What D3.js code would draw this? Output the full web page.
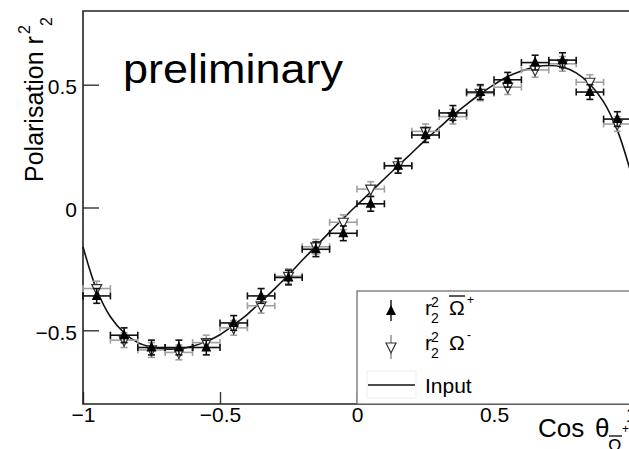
<!DOCTYPE html>
<html>
<head>
<meta charset="utf-8">
<script src="https://cdn.jsdelivr.net/npm/d3@7"></script>
<style>
  body { margin: 0; background: #fff; }
  text { font-family: "Liberation Sans", Arial, sans-serif; }
</style>
</head>
<body>
<div id="chart"></div>
<script>
// bin centres of cos(theta)
var binCenters = [-0.95, -0.85, -0.75, -0.65, -0.55, -0.45, -0.35, -0.25, -0.15, -0.05,
                  0.05, 0.15, 0.25, 0.35, 0.45, 0.55, 0.65, 0.75, 0.85, 0.95];
// r2^2 for anti-Omega+ (filled triangles)
var omegaBarPlus = [-0.36, -0.52, -0.57, -0.57, -0.57, -0.47, -0.36, -0.285, -0.17, -0.105,
                    0.015, 0.17, 0.295, 0.385, 0.47, 0.52, 0.59, 0.60, 0.47, 0.36];
// r2^2 for Omega- (open triangles)
var omegaMinus = [-0.33, -0.54, -0.58, -0.59, -0.55, -0.49, -0.40, -0.28, -0.16, -0.06,
                  0.075, 0.17, 0.31, 0.37, 0.465, 0.49, 0.56, 0.585, 0.51, 0.34];
var binHalfWidth = 0.05;
var yErr = 0.03;

// input curve
var inputX = [-1, -0.95, -0.9, -0.85, -0.8, -0.75, -0.7, -0.65, -0.6, -0.55, -0.5, -0.45, -0.4,
              -0.35, -0.3, -0.25, -0.2, -0.15, -0.1, -0.05, 0, 0.05, 0.1, 0.15, 0.2, 0.25, 0.3,
              0.35, 0.4, 0.45, 0.5, 0.55, 0.6, 0.65, 0.7, 0.75, 0.8, 0.85, 0.9, 0.95, 1];
var inputY = [-0.16, -0.335, -0.445, -0.51, -0.55, -0.568, -0.576, -0.575, -0.565, -0.545, -0.518,
              -0.478, -0.435, -0.383, -0.33, -0.275, -0.215, -0.158, -0.1, -0.045, 0.01, 0.063,
              0.117, 0.17, 0.222, 0.275, 0.325, 0.375, 0.42, 0.462, 0.5, 0.533, 0.556, 0.572,
              0.578, 0.572, 0.548, 0.502, 0.43, 0.315, 0.14];

var xTicks = [-1, -0.5, 0, 0.5, 1];
var yTicks = [-0.5, 0, 0.5];

// SVG area
var svgWidth = 629;
var svgHeight = 449;
var frame = { left: 83, top: 11, right: 631, bottom: 404 };

var svg = d3.select("#chart")
    .append("svg")
    .attr("width", svgWidth)
    .attr("height", svgHeight);

svg.append("rect").attr("width", svgWidth).attr("height", svgHeight).attr("fill", "#fff");

var x = d3.scaleLinear().domain([-1, 1]).range([frame.left, frame.right]);
var y = d3.scaleLinear().domain([-0.8, 0.8]).range([frame.bottom, frame.top]);

var fmt = function(d) { return d3.format("")(d).replace("-", "\u2212"); };

// axes with inward ticks
var bottomAxis = d3.axisBottom(x).tickValues(xTicks).tickSize(-12).tickPadding(3).tickFormat(fmt);
var leftAxis = d3.axisLeft(y).tickValues(yTicks).tickSize(-16).tickPadding(6).tickFormat(fmt);

var gx = svg.append("g")
    .attr("transform", `translate(0, ${frame.bottom})`)
    .call(bottomAxis);
var gy = svg.append("g")
    .attr("transform", `translate(${frame.left}, 0)`)
    .call(leftAxis);
[gx, gy].forEach(function(g) {
    g.select(".domain").remove();
    g.selectAll("line").attr("stroke", "#333").attr("stroke-width", 1.4);
    g.selectAll("text").attr("font-size", 21).attr("fill", "#000");
});
gy.selectAll("text").attr("dy", "0.42em");

// frame
svg.append("path")
    .attr("d", `M${frame.right},${frame.top} H${frame.left} V${frame.bottom} H${frame.right}`)
    .attr("fill", "none")
    .attr("stroke", "#222")
    .attr("stroke-width", 1.6);

// input curve
var line = d3.line()
    .x(function(d, i) { return x(inputX[i]); })
    .y(function(d) { return y(d); })
    .curve(d3.curveCatmullRom);
svg.append("path")
    .datum(inputY)
    .attr("d", line)
    .attr("fill", "none")
    .attr("stroke", "#111")
    .attr("stroke-width", 1.6);

// error bars + markers
function drawSeries(values, color, markerFn) {
    var g = svg.append("g");
    var pts = g.selectAll("g").data(values).enter().append("g");
    // horizontal bars
    pts.append("line")
        .attr("x1", function(d, i) { return x(binCenters[i] - binHalfWidth); })
        .attr("x2", function(d, i) { return x(binCenters[i] + binHalfWidth); })
        .attr("y1", function(d) { return y(d); })
        .attr("y2", function(d) { return y(d); });
    // vertical bars
    pts.append("line")
        .attr("x1", function(d, i) { return x(binCenters[i]); })
        .attr("x2", function(d, i) { return x(binCenters[i]); })
        .attr("y1", function(d) { return y(d - yErr); })
        .attr("y2", function(d) { return y(d + yErr); });
    // caps
    [-binHalfWidth, binHalfWidth].forEach(function(o) {
        pts.append("line")
            .attr("x1", function(d, i) { return x(binCenters[i] + o); })
            .attr("x2", function(d, i) { return x(binCenters[i] + o); })
            .attr("y1", function(d) { return y(d) - 3.5; })
            .attr("y2", function(d) { return y(d) + 3.5; });
    });
    [-yErr, yErr].forEach(function(o) {
        pts.append("line")
            .attr("x1", function(d, i) { return x(binCenters[i]) - 3.5; })
            .attr("x2", function(d, i) { return x(binCenters[i]) + 3.5; })
            .attr("y1", function(d) { return y(d + o); })
            .attr("y2", function(d) { return y(d + o); });
    });
    pts.selectAll("line").attr("stroke", color).attr("stroke-width", 1.6);
    pts.each(function(d, i) { markerFn(d3.select(this), x(binCenters[i]), y(d)); });
}

function triUp(g, cx, cy) {
    g.append("path")
        .attr("d", `M${cx},${cy - 6} L${cx + 5},${cy + 4} L${cx - 5},${cy + 4} Z`)
        .attr("fill", "#000");
}
function triDown(g, cx, cy) {
    g.append("path")
        .attr("d", `M${cx - 5},${cy - 4} L${cx + 5},${cy - 4} L${cx},${cy + 6} Z`)
        .attr("fill", "#fff")
        .attr("stroke", "#333")
        .attr("stroke-width", 1.2);
}

drawSeries(omegaMinus, "#a0a0a0", triDown);
drawSeries(omegaBarPlus, "#111", triUp);

// legend
var legend = svg.append("g");
legend.append("rect")
    .attr("x", 357).attr("y", 291)
    .attr("width", 300).attr("height", frame.bottom - 291)
    .attr("fill", "#fff")
    .attr("stroke", "#666")
    .attr("stroke-width", 1.2);

var lg1 = legend.append("g");
lg1.append("line").attr("x1", 391).attr("x2", 391).attr("y1", 300).attr("y2", 321)
    .attr("stroke", "#111").attr("stroke-width", 1.4);
triUp(lg1, 391, 311);

var lg2 = legend.append("g");
lg2.append("line").attr("x1", 391).attr("x2", 391).attr("y1", 335).attr("y2", 359)
    .attr("stroke", "#888").attr("stroke-width", 1.4);
triDown(lg2, 391, 347);

legend.append("rect").attr("x", 367).attr("y", 371).attr("width", 49).attr("height", 27)
    .attr("fill", "none").attr("stroke", "#eee");
legend.append("line").attr("x1", 368).attr("x2", 415).attr("y1", 385).attr("y2", 385)
    .attr("stroke", "#111").attr("stroke-width", 1.6);

function rLabel(g, x0, base, sign, bar) {
    g.append("text").attr("x", x0).attr("y", base).attr("font-size", 21).text("r");
    g.append("text").attr("x", x0 + 6).attr("y", base - 8).attr("font-size", 14).text("2");
    g.append("text").attr("x", x0 + 6).attr("y", base + 8).attr("font-size", 14).text("2");
    g.append("text").attr("x", x0 + 24).attr("y", base).attr("font-size", 21).text("\u03A9");
    if (bar) {
        g.append("line").attr("x1", x0 + 24).attr("x2", x0 + 40)
            .attr("y1", base - 19).attr("y2", base - 19)
            .attr("stroke", "#000").attr("stroke-width", 1.3);
    }
    g.append("text").attr("x", x0 + 42).attr("y", base - 11).attr("font-size", 12).text(sign);
}
rLabel(legend, 425, 315, "+", true);
rLabel(legend, 425, 350, "-", false);
legend.append("text").attr("x", 425).attr("y", 393).attr("font-size", 21).text("Input");

// x axis title
var xt = svg.append("g");
xt.append("text").attr("x", 538).attr("y", 437).attr("font-size", 26).text("Cos");
xt.append("text").attr("x", 595).attr("y", 437).attr("font-size", 26).text("\u03B8");
xt.append("text").attr("x", 608).attr("y", 452).attr("font-size", 18).text("\u03A9");
xt.append("line").attr("x1", 609).attr("x2", 622).attr("y1", 436).attr("y2", 436)
    .attr("stroke", "#000").attr("stroke-width", 1.3);
xt.append("text").attr("x", 622).attr("y", 433).attr("font-size", 12).text("+");

// y axis title
var yt = svg.append("g").attr("transform", "translate(43, 182) rotate(-90)");
yt.append("text").attr("x", 0).attr("y", 0).attr("font-size", 25).text("Polarisation r");
yt.append("text").attr("x", 148).attr("y", -13).attr("font-size", 16).text("2");
yt.append("text").attr("x", 156).attr("y", 9).attr("font-size", 16).text("2");

// preliminary stamp
svg.append("text")
    .attr("x", 123).attr("y", 83)
    .attr("font-family", "Lato, 'Open Sans', sans-serif")
    .attr("font-size", 41)
    .attr("textLength", 220)
    .attr("lengthAdjust", "spacingAndGlyphs")
    .text("preliminary");
</script>
</body>
</html>
